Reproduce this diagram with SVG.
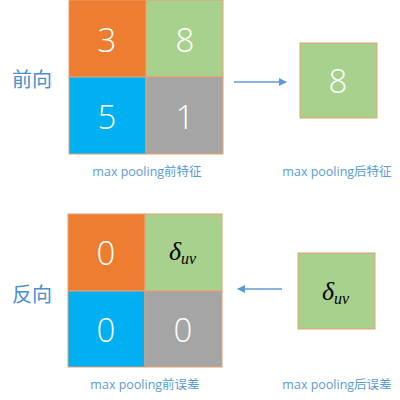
<svg xmlns="http://www.w3.org/2000/svg" width="400" height="400" viewBox="0 0 400 400">
<defs>
<style>
.o{fill:#ED7D31}.g{fill:#A9D18E}.b{fill:#00B0F0}.y{fill:#A5A5A5}
.cell{stroke:#E8A070;stroke-width:1}
.num{font-family:"Open Sans","Liberation Sans",sans-serif;font-weight:300;font-size:33px;fill:#fff;text-anchor:middle}
.lab{font-family:"Open Sans","Noto Sans CJK SC",sans-serif;font-size:12.5px;fill:#5B9BD5;text-anchor:middle}
.dir{font-family:"Noto Sans CJK SC",sans-serif;font-size:20px;fill:#4A8FD0;text-anchor:middle}
.d{font-family:"Liberation Serif",serif;font-style:italic;fill:#000}
.arr{stroke:#5B9BD5;stroke-width:1.5;fill:none}
</style>
<marker id="ah" markerWidth="8" markerHeight="8" refX="7" refY="4" orient="auto" markerUnits="userSpaceOnUse">
<path d="M0,0 L8,4 L0,8 Z" fill="#5B9BD5"/>
</marker>
</defs>
<rect width="400" height="400" fill="#fff"/>
<g id="forward-label"><text class="dir" x="32" y="87">前向</text></g>
<g id="forward-grid">
<rect class="o cell" x="69" y="0" width="77" height="77"/>
<rect class="g cell" x="146" y="0" width="77" height="77"/>
<rect class="b cell" x="69" y="77" width="77" height="77"/>
<rect class="y cell" x="146" y="77" width="77" height="77"/>
<text class="num" x="107" y="52">3</text>
<text class="num" x="185" y="52">8</text>
<text class="num" x="107" y="129">5</text>
<text class="num" x="185" y="129">1</text>
<text class="lab" x="147" y="176">max pooling前特征</text>
</g>
<g id="forward-out">
<rect class="g cell" x="300" y="43" width="77" height="75"/>
<text class="num" x="338" y="93">8</text>
<text class="lab" x="337" y="176">max pooling后特征</text>
</g>
<g id="backward-label"><text class="dir" x="32" y="302">反向</text></g>
<g id="backward-grid">
<rect class="o cell" x="68" y="214" width="77" height="77"/>
<rect class="g cell" x="145" y="214" width="77" height="77"/>
<rect class="b cell" x="68" y="291" width="77" height="76"/>
<rect class="y cell" x="145" y="291" width="77" height="76"/>
<text class="num" x="106" y="265">0</text>
<text class="num" x="106" y="342">0</text>
<text class="num" x="183" y="342">0</text>
<text class="d" x="169" y="260" font-size="26">δ<tspan font-size="16" dy="4">uv</tspan></text>
<text class="lab" x="145" y="389">max pooling前误差</text>
</g>
<g id="backward-in">
<rect class="g cell" x="298" y="253" width="77" height="76"/>
<text class="d" x="322" y="300" font-size="26">δ<tspan font-size="16" dy="4">uv</tspan></text>
<text class="lab" x="337" y="389">max pooling后误差</text>
</g>
<g id="connectors">
<line class="arr" x1="234" y1="82" x2="286" y2="82" marker-end="url(#ah)"/>
<line class="arr" x1="282" y1="289" x2="238" y2="289" marker-end="url(#ah)"/>
</g>
</svg>
